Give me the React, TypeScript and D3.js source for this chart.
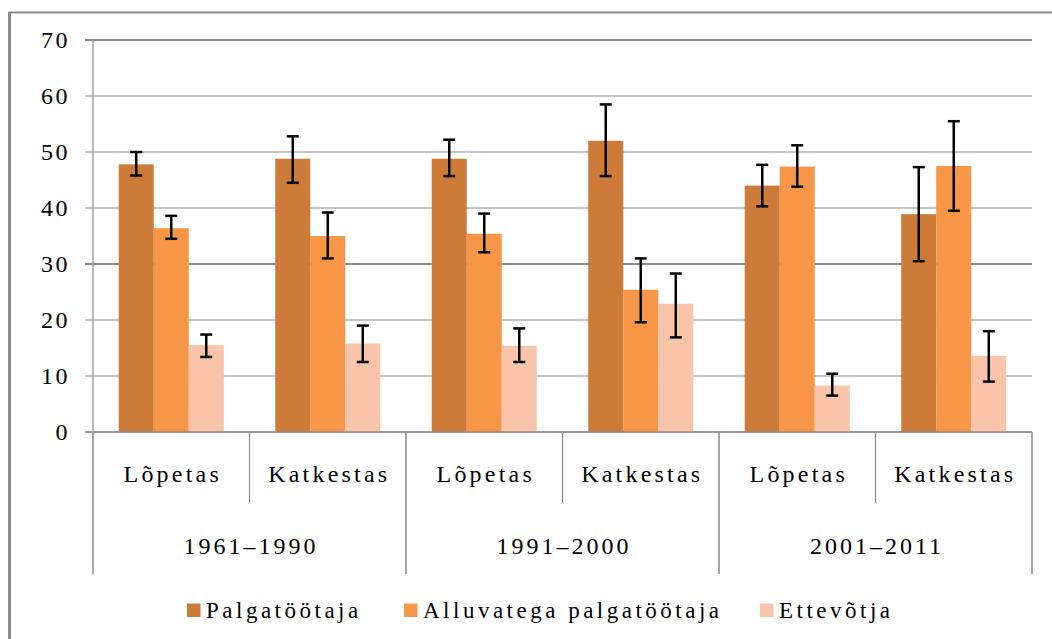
import React from 'react';
import * as d3 from 'd3';

const periods = ['1961–1990', '1991–2000', '2001–2011'];
const outcomes = ['Lõpetas', 'Katkestas'];
const seriesNames = ['Palgatöötaja', 'Alluvatega palgatöötaja', 'Ettevõtja'];
const seriesColors = ['#CD7B38', '#F79646', '#F9C4A9'];

// values per series, in order of the 6 subcategories
const palgaValues = [47.8, 48.8, 48.8, 52.0, 44.0, 38.9];
const palgaLow = [45.8, 44.5, 45.7, 45.7, 40.3, 30.5];
const palgaHigh = [50.0, 52.8, 52.2, 58.5, 47.7, 47.3];

const alluvValues = [36.4, 35.0, 35.4, 25.4, 47.4, 47.5];
const alluvLow = [34.5, 31.0, 32.1, 19.6, 43.8, 39.5];
const alluvHigh = [38.6, 39.2, 39.0, 31.0, 51.2, 55.5];

const ettevValues = [15.5, 15.8, 15.4, 22.9, 8.3, 13.6];
const ettevLow = [13.4, 12.5, 12.5, 16.9, 6.5, 9.0];
const ettevHigh = [17.4, 19.0, 18.5, 28.3, 10.4, 18.0];

const yTicks = [0, 10, 20, 30, 40, 50, 60, 70];

const series = [
  { values: palgaValues, low: palgaLow, high: palgaHigh },
  { values: alluvValues, low: alluvLow, high: alluvHigh },
  { values: ettevValues, low: ettevLow, high: ettevHigh },
];

const App = () => {
  const width = 1052;
  const height = 639;
  const left = 93;
  const right = 1032;
  const top = 40;
  const bottom = 432;
  const grid = '#8a8a8a';
  const txt = (size: number, spacing: number) => ({
    fontFamily: '"Liberation Serif"',
    fontSize: size,
    letterSpacing: spacing,
  });

  const subs = periods.flatMap(p => outcomes.map(o => `${p}|${o}`));
  const x = d3.scaleBand().domain(subs).range([left, right]).paddingInner(0).paddingOuter(0);
  const inner = d3.scaleBand().domain(seriesNames).range([0, x.bandwidth()]).paddingOuter(0.735);
  const y = d3.scaleLinear().domain([0, 70]).range([bottom, top]);
  const periodWidth = x.bandwidth() * outcomes.length;

  return (
    <svg width={width} height={height} style={{ position: 'absolute', left: 0, top: 0, background: '#fff' }}>
      {/* frame */}
      <line x1={9} x2={width} y1={12.5} y2={12.5} stroke="#8a8a8a" strokeWidth={2} />
      <line x1={9.5} x2={9.5} y1={12} y2={height} stroke="#8a8a8a" strokeWidth={3} />

      {/* gridlines */}
      {yTicks.map(t => (
        <line key={t} x1={left - 8} x2={right} y1={y(t)} y2={y(t)} stroke={grid}
          strokeWidth={t === 30 || t === 70 ? 2 : 1.2} />
      ))}
      {yTicks.map(t => (
        <text key={'l' + t} x={70} y={y(t)} dy="0.34em" textAnchor="end" style={txt(24, 2.5)} fill="#000">{t}</text>
      ))}
      <line x1={left} x2={left} y1={top} y2={bottom} stroke={grid} strokeWidth={1.2} />

      {/* bars */}
      {series.map((s, si) => s.values.map((v, i) => {
        const bx = x(subs[i])! + inner(seriesNames[si])!;
        return (
          <rect key={`${si}-${i}`} x={bx} y={y(v)} width={inner.bandwidth()} height={bottom - y(v)} fill={seriesColors[si]} />
        );
      }))}

      {/* error bars */}
      {series.map((s, si) => s.values.map((v, i) => {
        const cx = x(subs[i])! + inner(seriesNames[si])! + inner.bandwidth() / 2;
        return (
          <g key={`e${si}-${i}`} stroke="#000" strokeWidth={2.5}>
            <line x1={cx} x2={cx} y1={y(s.high[i])} y2={y(s.low[i])} />
            <line x1={cx - 6} x2={cx + 6} y1={y(s.high[i])} y2={y(s.high[i])} />
            <line x1={cx - 6} x2={cx + 6} y1={y(s.low[i])} y2={y(s.low[i])} />
          </g>
        );
      }))}

      {/* x axis */}
      <line x1={left - 8} x2={right} y1={bottom} y2={bottom} stroke={grid} strokeWidth={1.5} />
      {subs.map((s, i) => {
        const x0 = x(s)!;
        const isPeriodStart = i % outcomes.length === 0;
        return (
          <line key={'sep' + s} x1={x0} x2={x0} y1={bottom} y2={isPeriodStart ? 574 : 503} stroke={grid} strokeWidth={isPeriodStart ? 1.5 : 1.2} />
        );
      })}
      <line x1={right} x2={right} y1={bottom} y2={574} stroke={grid} strokeWidth={1.5} />
      {subs.map(s => (
        <text key={'t' + s} x={x(s)! + x.bandwidth() / 2 + 1.5} y={474} dy="0.34em" textAnchor="middle" style={txt(24, 3.2)}>
          {s.split('|')[1]}
        </text>
      ))}
      {periods.map((p, i) => (
        <text key={p} x={left + periodWidth * i + periodWidth / 2 + 1.5} y={546} dy="0.34em" textAnchor="middle" style={txt(24, 3)}>
          {p}
        </text>
      ))}

      {/* legend */}
      {seriesNames.map((n, i) => {
        const lx = [187, 404, 760][i];
        return (
          <g key={n}>
            <rect x={lx} y={603.5} width={13.5} height={13.5} fill={seriesColors[i]} />
            <text x={lx + 19} y={610} dy="0.34em" style={txt(23, 3.5)}>{n}</text>
          </g>
        );
      })}
    </svg>
  );
};

export default App;
